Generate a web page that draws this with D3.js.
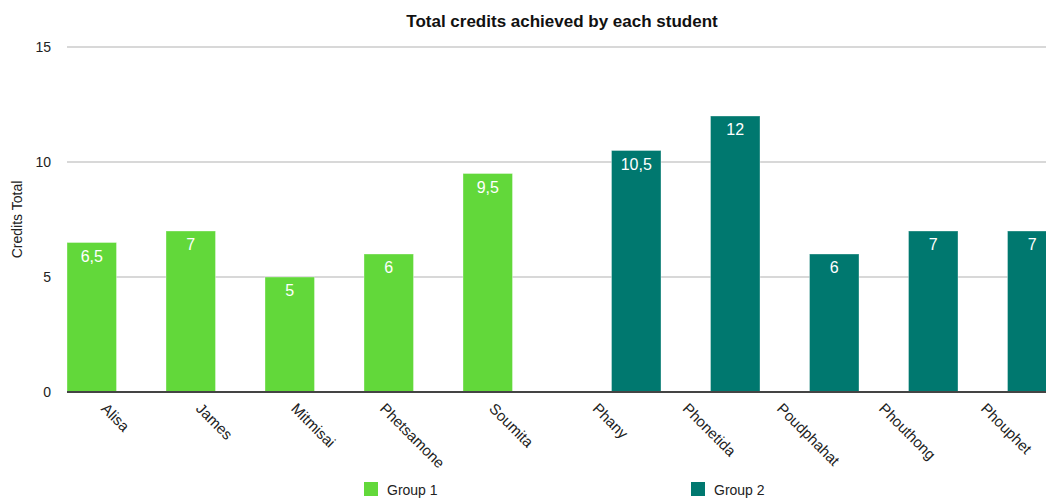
<!DOCTYPE html>
<html>
<head>
<meta charset="utf-8">
<script src="https://cdn.jsdelivr.net/npm/d3@7"></script>
<style>
  html, body { margin: 0; padding: 0; background: #fff; }
  svg { display: block; font-family: Helvetica, Arial, "Liberation Sans", sans-serif; }
</style>
</head>
<body>
<svg id="chart" width="1046" height="498"></svg>
<script>
const title = "Total credits achieved by each student";
const yAxisTitle = "Credits Total";
const students = ["Alisa", "James", "Mitmisai", "Phetsamone", "Soumita", "Phany", "Phonetida", "Poudphahat", "Phouthong", "Phouphet"];
const seriesNames = ["Group 1", "Group 2"];
const group1 = [6.5, 7, 5, 6, 9.5, null, null, null, null, null];
const group2 = [null, null, null, null, null, 10.5, 12, 6, 7, 7];
const yTicks = [0, 5, 10, 15];
const colors = ["#62d83a", "#00786f"];

const svg = d3.select("#chart");
const W = 1046, H = 498;
const plot = { left: 67, right: 1057, top: 47, bottom: 392 };

const x = d3.scaleBand().domain(students).range([plot.left, plot.right]).paddingInner(0).paddingOuter(0);
const xs = d3.scaleBand().domain(seriesNames).range([0, x.bandwidth()]).padding(0);
const y = d3.scaleLinear().domain([0, 15]).range([plot.bottom, plot.top]);

const locale = d3.formatLocale({ decimal: ",", thousands: ".", grouping: [3], currency: ["", "€"] });
const fmt = v => Number.isInteger(v) ? String(v) : locale.format(".1f")(v);

// gridlines
svg.append("g").selectAll("line")
  .data(yTicks.filter(t => t > 0))
  .join("line")
  .attr("x1", plot.left).attr("x2", W)
  .attr("y1", d => y(d)).attr("y2", d => y(d))
  .attr("stroke", "#cbcbcb").attr("stroke-width", 1.3);

// y tick labels
svg.append("g").selectAll("text")
  .data(yTicks)
  .join("text")
  .attr("x", 51).attr("y", d => y(d)).attr("dy", "0.36em")
  .attr("text-anchor", "end")
  .attr("font-size", 14).attr("fill", "#222")
  .text(d => d);

// y axis title
svg.append("text")
  .attr("transform", `translate(22,${(plot.top + plot.bottom) / 2}) rotate(-90)`)
  .attr("text-anchor", "middle")
  .attr("font-size", 14).attr("fill", "#222")
  .text(yAxisTitle);

// bars
const series = [group1, group2];
const barData = [];
series.forEach((vals, si) => vals.forEach((v, i) => {
  if (v !== null) barData.push({ s: seriesNames[si], si, cat: students[i], v });
}));

svg.append("g").selectAll("rect")
  .data(barData)
  .join("rect")
  .attr("x", d => x(d.cat) + xs(d.s))
  .attr("y", d => y(d.v))
  .attr("width", xs.bandwidth())
  .attr("height", d => y(0) - y(d.v))
  .attr("fill", d => colors[d.si])
  .attr("stroke", "rgba(255,255,255,0.35)")
  .attr("stroke-width", 1);

// value labels
svg.append("g").selectAll("text")
  .data(barData)
  .join("text")
  .attr("x", d => x(d.cat) + xs(d.s) + xs.bandwidth() / 2)
  .attr("y", d => y(d.v) + 19)
  .attr("text-anchor", "middle")
  .attr("font-size", 16).attr("fill", "#fff")
  .text(d => fmt(d.v));

// baseline
svg.append("line")
  .attr("x1", plot.left).attr("x2", W)
  .attr("y1", y(0)).attr("y2", y(0))
  .attr("stroke", "#444").attr("stroke-width", 2);

// category labels rotated 45deg, bbox centred on category, top fixed
const catG = svg.append("g");
students.forEach(name => {
  const t = catG.append("text")
    .attr("font-size", 15).attr("fill", "#222")
    .attr("text-anchor", "start")
    .text(name);
  const w = t.node().getComputedTextLength();
  const a = 10.7;
  const cx = x(name) + x.bandwidth() / 2 - 1;
  const x0 = cx - 0.7071 * (w + a) / 2;
  const y0 = 402 + 0.7071 * a;
  t.attr("transform", `translate(${x0},${y0}) rotate(45)`);
});

// title
svg.append("text")
  .attr("x", (plot.left + plot.right) / 2).attr("y", 27)
  .attr("text-anchor", "middle")
  .attr("font-size", 17).attr("font-weight", "bold").attr("fill", "#111")
  .text(title);

// legend
const legendX = [364, 691];
const lg = svg.append("g").selectAll("g")
  .data(seriesNames)
  .join("g")
  .attr("transform", (d, i) => `translate(${legendX[i]},482)`);
lg.append("rect").attr("width", 14).attr("height", 14).attr("fill", (d, i) => colors[i]);
lg.append("text").attr("x", 23).attr("y", 12.5)
  .attr("font-size", 14).attr("fill", "#222")
  .text(d => d);
</script>
</body>
</html>
